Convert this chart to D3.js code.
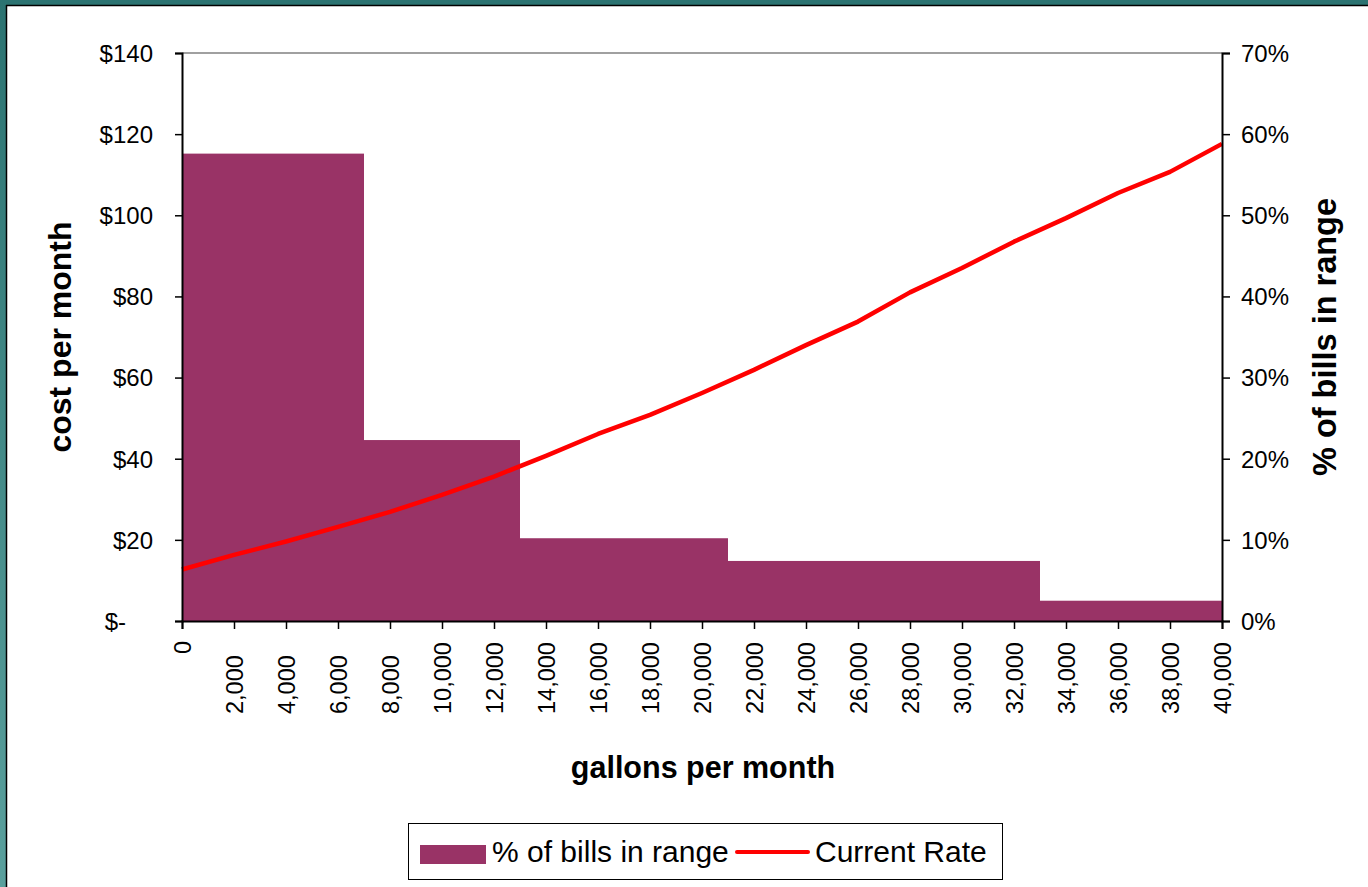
<!DOCTYPE html>
<html>
<head>
<meta charset="utf-8">
<script src="https://cdn.jsdelivr.net/npm/d3@7/dist/d3.min.js"></script>
<style>
  html, body { margin: 0; padding: 0; background: #fff; }
  svg { display: block; }
  text { font-family: "Liberation Sans", Arial, sans-serif; fill: #000; }
</style>
</head>
<body>
<svg id="chart" width="1368" height="887"></svg>
<script>
// ---- data ----
const binStart = [0, 7000, 13000, 21000, 33000];
const binEnd   = [7000, 13000, 21000, 33000, 40000];
const billPct  = [0.576, 0.223, 0.102, 0.074, 0.025];

const gallons = [0, 2000, 4000, 6000, 8000, 10000, 12000, 14000, 16000, 18000, 20000,
                 22000, 24000, 26000, 28000, 30000, 32000, 34000, 36000, 38000, 40000];
const currentRate = [12.7, 16.3, 19.6, 23.2, 26.9, 31.1, 35.6, 40.7, 46.1, 50.8, 56.2,
                     61.9, 68.0, 73.8, 81.0, 87.0, 93.5, 99.3, 105.5, 110.7, 117.6];

const xTicks = [0, 2000, 4000, 6000, 8000, 10000, 12000, 14000, 16000, 18000, 20000,
                22000, 24000, 26000, 28000, 30000, 32000, 34000, 36000, 38000, 40000];
const costTicks = [0, 20, 40, 60, 80, 100, 120, 140];
const pctTicks = [0, 0.1, 0.2, 0.3, 0.4, 0.5, 0.6, 0.7];

const seriesNames = ["% of bills in range", "Current Rate"];
const xTitle = "gallons per month";
const yLeftTitle = "cost per month";
const yRightTitle = "% of bills in range";

// ---- layout ----
const svg = d3.select("#chart");
const L = 182, R = 1222, T = 53, B = 621;
const barColor = "#993366", lineColor = "#ff0000";

const x = d3.scaleLinear().domain([0, 40000]).range([L, R]);
const yL = d3.scaleLinear().domain([0, 140]).range([B, T]);
const yR = d3.scaleLinear().domain([0, 0.7]).range([B, T]);

// frame
const defs = svg.append("defs");
const g1 = defs.append("linearGradient").attr("id", "leftGrad")
  .attr("x1", 0).attr("y1", 0).attr("x2", 0).attr("y2", 1);
g1.append("stop").attr("offset", "0%").attr("stop-color", "#2b7371");
g1.append("stop").attr("offset", "100%").attr("stop-color", "#5aa09d");
svg.append("rect").attr("x", 0).attr("y", 0).attr("width", 1368).attr("height", 5).attr("fill", "#2b7371");
svg.append("rect").attr("x", 0).attr("y", 0).attr("width", 6).attr("height", 887).attr("fill", "url(#leftGrad)");
svg.append("line").attr("x1", 6).attr("x2", 1368).attr("y1", 5.5).attr("y2", 5.5).attr("stroke", "#000").attr("stroke-width", 1.5);
svg.append("line").attr("x1", 6.5).attr("x2", 6.5).attr("y1", 5).attr("y2", 887).attr("stroke", "#000").attr("stroke-width", 1.5);

// top border of plot
svg.append("line").attr("x1", L).attr("x2", R).attr("y1", T).attr("y2", T)
  .attr("stroke", "#808080").attr("stroke-width", 1.5);

// bars
svg.append("g").selectAll("rect").data(billPct).join("rect")
  .attr("x", (d, i) => x(binStart[i]))
  .attr("width", (d, i) => x(binEnd[i]) - x(binStart[i]))
  .attr("y", d => yR(d))
  .attr("height", d => yR(0) - yR(d))
  .attr("fill", barColor);

// line
const line = d3.line().x((d, i) => x(gallons[i])).y(d => yL(d));
svg.append("path").datum(currentRate).attr("d", line)
  .attr("fill", "none").attr("stroke", lineColor).attr("stroke-width", 4.5)
  .attr("stroke-linejoin", "round");

// axes
const fmtCost = d => d === 0 ? "$-" : "$" + d;
const leftAxis = d3.axisLeft(yL).tickValues(costTicks).tickFormat(fmtCost).tickSize(7).tickPadding(22);
const gl = svg.append("g").attr("transform", `translate(${L},0)`).call(leftAxis);
const rightAxis = d3.axisRight(yR).tickValues(pctTicks).tickFormat(d3.format(".0%")).tickSize(8).tickPadding(11);
const gr = svg.append("g").attr("transform", `translate(${R},0)`).call(rightAxis);
const bottomAxis = d3.axisBottom(x).tickValues(xTicks).tickFormat(d3.format(",")).tickSize(8);
const gb = svg.append("g").attr("transform", `translate(0,${B})`).call(bottomAxis);

[gl, gr, gb].forEach(g => {
  g.select(".domain").attr("stroke", "#000").attr("stroke-width", 2);
  g.selectAll(".tick line").attr("stroke", "#000").attr("stroke-width", 1.5);
  g.selectAll("text").attr("font-family", "'Liberation Sans', Arial, sans-serif").attr("fill", "#000");
});
gl.selectAll("text").attr("font-size", 24).attr("dy", "0.35em");
gl.selectAll(".tick").filter(d => d === 0).select("text").attr("x", -56);
gr.selectAll("text").attr("font-size", 24).attr("dy", "0.35em");
gb.selectAll("text")
  .attr("font-size", 23.5)
  .attr("y", 0).attr("dy", "0.35em")
  .attr("text-anchor", d => d === 0 ? "end" : "start")
  .attr("transform", d => d === 0 ? "translate(0,20) rotate(-90)" : "translate(0,93) rotate(-90)");

// axis titles
svg.append("text").attr("x", 703).attr("y", 778).attr("text-anchor", "middle")
  .attr("font-weight", "bold").attr("font-size", 30.5).text(xTitle);
svg.append("text").attr("transform", "translate(71,337) rotate(-90)").attr("text-anchor", "middle")
  .attr("font-weight", "bold").attr("font-size", 32).text(yLeftTitle);
svg.append("text").attr("transform", "translate(1336,337) rotate(-90)").attr("text-anchor", "middle")
  .attr("font-weight", "bold").attr("font-size", 32.5).text(yRightTitle);

// legend
const lg = svg.append("g");
lg.append("rect").attr("x", 408.5).attr("y", 823.5).attr("width", 594).attr("height", 56)
  .attr("fill", "#fff").attr("stroke", "#000").attr("stroke-width", 1);
lg.append("rect").attr("x", 420).attr("y", 845).attr("width", 66).attr("height", 19).attr("fill", barColor);
lg.append("text").attr("x", 492).attr("y", 862).attr("font-size", 30).text(seriesNames[0]);
lg.append("line").attr("x1", 737).attr("x2", 808).attr("y1", 852).attr("y2", 852)
  .attr("stroke", lineColor).attr("stroke-width", 4).attr("stroke-linecap", "round");
lg.append("text").attr("x", 815).attr("y", 862).attr("font-size", 30).text(seriesNames[1]);
</script>
</body>
</html>
